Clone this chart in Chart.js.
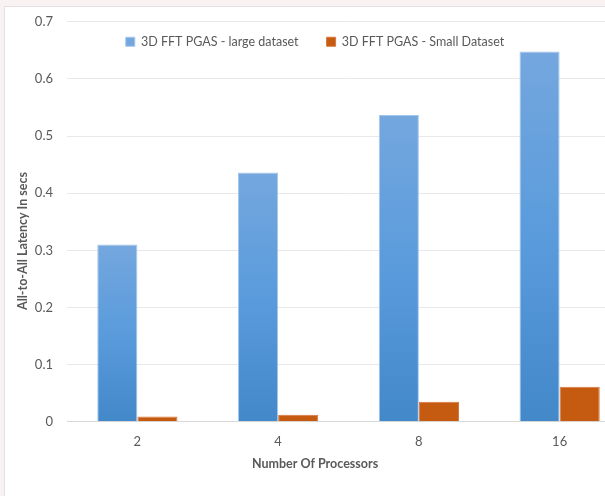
<!DOCTYPE html>
<html>
<head>
<meta charset="utf-8">
<script src="https://cdn.jsdelivr.net/npm/chart.js@4/dist/chart.umd.min.js"></script>
<style>
  html, body { margin: 0; padding: 0; width: 605px; height: 496px; overflow: hidden; background: #f8f2f3; }
  #panel { position: absolute; left: 4px; top: 6px; width: 720px; height: 600px; background: #ffffff; border: 1px solid #e6e0e4; box-sizing: border-box; }
  #wrap { position: absolute; left: 0; top: 0; width: 640px; height: 496px; }
</style>
</head>
<body>
<div id="panel"></div>
<div id="wrap"><canvas id="c" width="640" height="496"></canvas></div>
<script>
// Processor counts along the x axis
const processors = ['2', '4', '8', '16'];
// All-to-all latency in seconds
const largeDataset = [0.31, 0.436, 0.537, 0.648];
const smallDataset = [0.009, 0.012, 0.035, 0.061];
const seriesNames = ['3D FFT PGAS - large dataset', '3D FFT PGAS - Small Dataset'];
const yTitle = 'All-to-All Latency In secs';
const xTitle = 'Number Of Processors';

const FONT = 'Lato, "Open Sans", sans-serif';
const TEXT = '#595959';
const LEGEND_PAD = 28;      // spacing between legend entries
const LEGEND_CENTER_Y = 42; // legend row sits inside the plot, under the top gridline

// vertical gradient spanning each blue bar from its top to the baseline
function blueFill(ctx) {
  const chart = ctx.chart;
  if (!chart.chartArea || ctx.type !== 'data' || !ctx.parsed) return '#5b9bd5';
  const y = chart.scales.y;
  const top = y.getPixelForValue(ctx.parsed.y);
  const bottom = y.getPixelForValue(0);
  if (!isFinite(top) || !isFinite(bottom) || bottom - top < 1) return '#5b9bd5';
  const g = chart.ctx.createLinearGradient(0, top, 0, bottom);
  g.addColorStop(0, '#74a7de');
  g.addColorStop(0.5, '#5a9bdc');
  g.addColorStop(1, '#4388c9');
  return g;
}

// axis titles at fixed spots; legend moved down so it overlays the plot area
const placement = {
  id: 'placement',
  afterLayout(chart) {
    const lg = chart.legend;
    if (lg) {
      const currentCenter = lg.top + LEGEND_PAD + 13 / 2;
      const dy = LEGEND_CENTER_Y - currentCenter;
      lg.top += dy; lg.bottom += dy;
    }
  },
  afterDraw(chart) {
    const c = chart.ctx;
    c.save();
    c.fillStyle = TEXT;
    c.font = 'bold 12.5px ' + FONT;
    c.textAlign = 'center';
    c.textBaseline = 'middle';
    c.fillText(xTitle, 315, 464);
    c.translate(23, 241);
    c.rotate(-Math.PI / 2);
    c.fillText(yTitle, 0, 0);
    c.restore();
  }
};

new Chart(document.getElementById('c'), {
  type: 'bar',
  data: {
    labels: processors,
    datasets: [
      { label: seriesNames[0], data: largeDataset, backgroundColor: blueFill, borderColor: '#a3c7ec', borderWidth: 1, borderSkipped: 'bottom' },
      { label: seriesNames[1], data: smallDataset, backgroundColor: '#c55a11', borderColor: '#d9773a', borderWidth: 1, borderSkipped: 'bottom' }
    ]
  },
  options: {
    responsive: false,
    animation: false,
    devicePixelRatio: 1,
    // legend height (13 + 28 + 10) is taken back so the plot top stays at 19px
    layout: { padding: { top: 19 - (13 + LEGEND_PAD + 10), right: 10, bottom: 0, left: 0 } },
    datasets: { bar: { categoryPercentage: 0.57, barPercentage: 1.0 } },
    plugins: {
      legend: {
        position: 'top',
        align: 'center',
        labels: {
          color: TEXT,
          font: { family: FONT, size: 12.5 },
          boxWidth: 9,
          boxHeight: 9,
          padding: LEGEND_PAD
        }
      },
      tooltip: { enabled: false }
    },
    scales: {
      x: {
        grid: { display: false, drawTicks: false },
        border: { display: true, color: '#d9d9d9', width: 1 },
        ticks: { color: TEXT, font: { family: FONT, size: 13 }, padding: 12 },
        afterFit(scale) { scale.height = 74.3; }
      },
      y: {
        min: 0,
        max: 0.7,
        ticks: { stepSize: 0.1, color: TEXT, font: { family: FONT, size: 13 }, padding: 14,
                 callback: (v) => Number(v.toFixed(1)).toString() },
        grid: { color: '#e8e8ec', lineWidth: 1, drawTicks: false },
        border: { display: false },
        afterFit(scale) { scale.width = 67; }
      }
    }
  },
  plugins: [placement]
});
</script>
</body>
</html>
